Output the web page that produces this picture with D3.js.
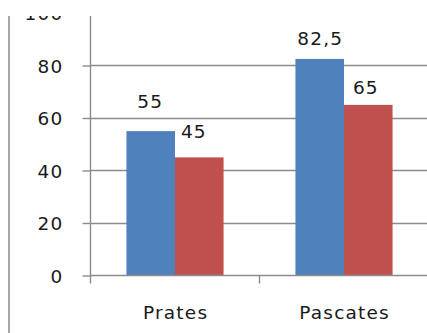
<!DOCTYPE html>
<html>
<head>
<meta charset="utf-8">
<script src="https://cdn.jsdelivr.net/npm/d3@7/dist/d3.min.js"></script>
<style>
  html, body { margin: 0; padding: 0; background: #fff; }
  svg { display: block; }
  text { font-family: "DejaVu Sans", Verdana, sans-serif; fill: #1a1a1a; }
</style>
</head>
<body>
<svg id="chart" width="427" height="333"></svg>
<script>
// Chart data
const categories = ["Prates", "Pascates"];
const seriesNames = ["A", "B"];
const seriesA = [55, 82.5];
const seriesB = [45, 65];
const yTicks = [0, 20, 40, 60, 80, 100];

// Hand-placed label nudges (px) for each value label, per category then series
const labelNudge = [
  [[-1, -23.5], [-6, -19.5]],
  [[0, -14], [-3, -11]]
];

const colors = ["#4f81bd", "#c0504d"];
const gridColor = "#8c8c8c";
const fontSize = 18.5;
const spacing = 1.2;

const svg = d3.select("#chart");
const W = 427, H = 333;

// The visible area starts a little below the top edge
svg.append("defs").append("clipPath").attr("id", "view")
  .append("rect").attr("x", 0).attr("y", 16).attr("width", W).attr("height", H - 16);
const g = svg.append("g").attr("clip-path", "url(#view)");

const x0 = 90.5, yBase = 275.5;
const y = d3.scaleLinear().domain([0, 100]).range([yBase, 13]);
const x = d3.scaleBand().domain(categories).range([x0, x0 + 2 * 169]).paddingInner(0).paddingOuter(0);
const xs = d3.scaleBand().domain(seriesNames).range([0, x.bandwidth()]).paddingInner(0).paddingOuter(0.74);

// Outer frame line on the left
g.append("line").attr("x1", 9).attr("x2", 9).attr("y1", 0).attr("y2", H)
  .attr("stroke", "#8f8f8f").attr("stroke-width", 1.6);

// Horizontal gridlines
g.append("g").selectAll("line").data(yTicks.filter(t => t > 0)).join("line")
  .attr("x1", x0).attr("x2", W)
  .attr("y1", d => Math.round(y(d)) + 0.5).attr("y2", d => Math.round(y(d)) + 0.5)
  .attr("stroke", gridColor).attr("stroke-width", 1.4);

// Bars
const rows = categories.map((c, i) => ({ cat: c, vals: [seriesA[i], seriesB[i]] }));
const groups = g.append("g").selectAll("g").data(rows).join("g")
  .attr("transform", d => `translate(${x(d.cat)},0)`);
groups.selectAll("rect").data(d => d.vals.map((v, j) => ({ v, j }))).join("rect")
  .attr("x", d => xs(seriesNames[d.j]))
  .attr("width", xs.bandwidth())
  .attr("y", d => y(d.v))
  .attr("height", d => y(0) - y(d.v))
  .attr("fill", d => colors[d.j]);

// Value labels (decimal comma)
const fmt = v => String(v).replace(".", ",");
groups.each(function (d, i) {
  d3.select(this).selectAll("text").data(d.vals.map((v, j) => ({ v, j }))).join("text")
    .attr("x", e => xs(seriesNames[e.j]) + xs.bandwidth() / 2 + labelNudge[i][e.j][0] + spacing / 2)
    .attr("y", e => y(e.v) + labelNudge[i][e.j][1])
    .attr("text-anchor", "middle")
    .attr("font-size", fontSize)
    .attr("letter-spacing", spacing)
    .text(e => fmt(e.v));
});

// Y axis
const yAxis = g.append("g").attr("transform", `translate(${x0},0)`)
  .call(d3.axisLeft(y).tickValues(yTicks).tickSize(8).tickPadding(19).tickSizeOuter(0));
yAxis.select(".domain").attr("stroke", gridColor).attr("stroke-width", 1.4)
  .attr("d", `M0,0V${yBase}`);
yAxis.selectAll(".tick line").attr("stroke", gridColor).attr("stroke-width", 1.4);
yAxis.selectAll(".tick text").attr("font-size", fontSize).attr("letter-spacing", spacing)
  .attr("font-family", "DejaVu Sans, sans-serif").attr("fill", "#1a1a1a").attr("dy", "0.36em");

// X axis line and boundary ticks
const xa = g.append("g");
xa.append("line").attr("x1", x0).attr("x2", W).attr("y1", yBase).attr("y2", yBase)
  .attr("stroke", gridColor).attr("stroke-width", 1.4);
xa.selectAll("line.b").data(categories).join("line").attr("class", "b")
  .attr("x1", d => x(d)).attr("x2", d => x(d))
  .attr("y1", yBase).attr("y2", yBase + 8)
  .attr("stroke", gridColor).attr("stroke-width", 1.4);

// Category labels
xa.selectAll("text").data(categories).join("text")
  .attr("x", d => x(d) + x.bandwidth() / 2 + spacing / 2)
  .attr("y", 318.5)
  .attr("text-anchor", "middle")
  .attr("font-size", fontSize)
  .attr("letter-spacing", spacing)
  .text(d => d);
</script>
</body>
</html>
